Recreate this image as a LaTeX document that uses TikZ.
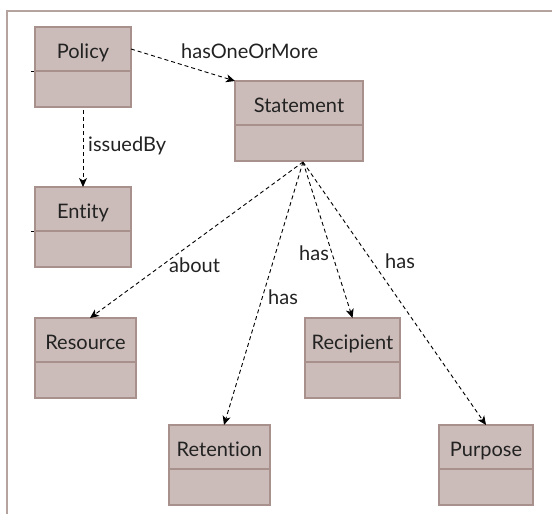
\documentclass[tikz,border=0pt]{standalone}
\usepackage{fontspec}
\setmainfont{Lato}[Ligatures=NoCommon]
\usetikzlibrary{arrows.meta,calc}
\definecolor{boxfill}{HTML}{CBBCB9}
\definecolor{boxline}{HTML}{A8918D}
\definecolor{framec}{HTML}{B5A39F}
\definecolor{txt}{HTML}{222222}
\newcommand{\umlcls}[5]{%
  \node[umlbox, minimum width=#4pt, anchor=north] (#1) at (#2,-#3) {};
  \draw[boxline, line width=1.3pt] ($(#1.north west)+(0,-44)$) -- ($(#1.north east)+(0,-44)$);
  \node[clsname] (#1-t) at ($(#1.north)+(0,-31.5)$) {#5};
}
\begin{document}
\begin{tikzpicture}[x=1pt,y=1pt,
  umlbox/.style={draw=boxline, fill=boxfill, line width=1.3pt, minimum height=80pt, inner sep=0pt, outer sep=0pt},
  clsname/.style={text=txt, font=\fontsize{20}{20}\selectfont, inner sep=0pt, anchor=base},
  lbl/.style={text=txt, font=\fontsize{20}{20}\selectfont, inner sep=0pt, anchor=base west},
  rel/.style={draw=black, line width=0.9pt, dash pattern=on 4pt off 3pt, -{Stealth[length=9pt,width=8pt,inset=2.5pt]}},
  tick/.style={draw=black, line width=1pt},
]
\useasboundingbox (0,0) rectangle (552,-514);
\draw[framec, line width=1.5pt] (7,-514) -- (7,-11) -- (552,-11);

\umlcls{policy}{83}{27}{96}{Policy}
\umlcls{statement}{299}{81}{128}{Statement}
\umlcls{entity}{83}{187}{96}{Entity}
\umlcls{resource}{85.5}{318}{101}{Resource}
\umlcls{recipient}{352.5}{318}{95}{Recipient}
\umlcls{retention}{219.5}{425}{101}{Retention}
\umlcls{purpose}{486}{425}{94}{Purpose}

\draw[tick] ($(policy.north west)+(-4,-44)$) -- ($(policy.north west)+(-1,-44)$);
\draw[tick] ($(entity.north west)+(-4,-44)$) -- ($(entity.north west)+(-1,-44)$);

\draw[rel] ($(policy.north east)+(0,-22)$) -- (statement.north west);
\draw[rel] ($(policy.south)+(0,-3)$) -- (entity.north);
\coordinate (s0) at ($(statement.south)+(4,-1)$);
\draw[rel] (s0) -- ($(resource.north)+(4.5,0)$);
\draw[rel] (s0) -- ($(retention.north)+(4.5,0)$);
\draw[rel] (s0) -- (recipient.north);
\draw[rel] (s0) -- (purpose.north);

\node[lbl] (l-hasone) at (181,-58) {hasOneOrMore};
\node[lbl] (l-issued) at (88,-151) {issuedBy};
\node[lbl] (l-about) at (169,-272) {about};
\node[lbl] (l-has1) at (268,-304) {has};
\node[lbl] (l-has2) at (299,-260) {has};
\node[lbl] (l-has3) at (385,-268) {has};
\end{tikzpicture}
\end{document}
